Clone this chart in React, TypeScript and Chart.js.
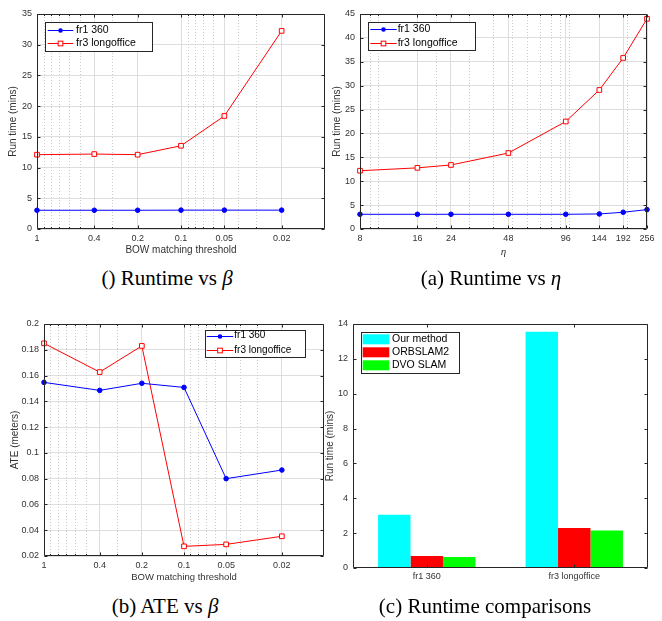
import React, { useEffect, useRef } from "react";
import { Chart, registerables } from "chart.js";

Chart.register(...registerables);

// ---------- data ----------
const betaValues = [1, 0.4, 0.2, 0.1, 0.05, 0.02];
const betaTickValues = [1, 0.4, 0.2, 0.1, 0.05, 0.02];
const betaMinorValues = [0.9, 0.8, 0.7, 0.6, 0.5, 0.3, 0.09, 0.08, 0.07, 0.06, 0.04, 0.03];
const runtimeBetaFr1 = [3.05, 3.05, 3.05, 3.07, 3.07, 3.07];
const runtimeBetaFr3 = [12.1, 12.2, 12.1, 13.55, 18.4, 32.25];
const runtimeBetaYTicks = [0, 5, 10, 15, 20, 25, 30, 35];

const etaValues = [8, 16, 24, 48, 96, 144, 192, 256];
const etaTickValues = [8, 16, 24, 48, 96, 144, 192, 256];
const etaMinorValues = [9, 10, 20, 30, 40, 50, 60, 70, 80, 90, 100, 200];
const runtimeEtaFr1 = [3.08, 3.08, 3.08, 3.08, 3.08, 3.15, 3.5, 4.06];
const runtimeEtaFr3 = [12.2, 12.8, 13.4, 15.9, 22.5, 29.1, 35.8, 44.0];
const runtimeEtaYTicks = [0, 5, 10, 15, 20, 25, 30, 35, 40, 45];

const ateBetaFr1 = [0.1547, 0.1485, 0.154, 0.1508, 0.08, 0.0867];
const ateBetaFr3 = [0.185, 0.1627, 0.183, 0.0275, 0.029, 0.0353];
const ateYTicks = [0.02, 0.04, 0.06, 0.08, 0.1, 0.12, 0.14, 0.16, 0.18, 0.2];

const sequences = ["fr1 360", "fr3 longoffice"];
const methods = ["Our method", "ORBSLAM2", "DVO SLAM"];
const ourMethodRuntime = [3.06, 13.56];
const orbslam2Runtime = [0.69, 2.3];
const dvoSlamRuntime = [0.63, 2.15];
const comparisonYTicks = [0, 2, 4, 6, 8, 10, 12, 14];

const seriesNames = ["fr1 360", "fr3 longoffice"];

// ---------- styles ----------
const FONT = "'Liberation Sans', Arial, Helvetica, sans-serif";
const AXIS = "#262626";
const TICK_TEXT = "#333333";
const GRID = "#dedede";
const MINOR_GRID = "#cccccc";

function drawLegend(chart: any, L: any) {
  const ctx = chart.ctx;
  const ds = chart.data.datasets;
  ctx.save();
  ctx.fillStyle = "#ffffff";
  ctx.fillRect(L.x, L.y, L.w, L.h);
  ctx.strokeStyle = AXIS;
  ctx.lineWidth = 1;
  ctx.strokeRect(Math.round(L.x) + 0.5, Math.round(L.y) + 0.5, Math.round(L.w), Math.round(L.h));
  ctx.font = `${L.fontSize}px ${FONT}`;
  ctx.textBaseline = "middle";
  ctx.textAlign = "left";
  ds.forEach((d: any, i: number) => {
    const cy = L.y + L.row0 + i * L.rowH;
    const x0 = L.x + L.sx0;
    const x1 = L.x + L.sx1;
    if (L.kind === "patch") {
      ctx.fillStyle = d.backgroundColor;
      ctx.fillRect(x0, cy - L.patchH / 2, x1 - x0, L.patchH);
    } else {
      ctx.strokeStyle = d.borderColor;
      ctx.lineWidth = 1;
      const ly = Math.round(cy) + 0.5;
      ctx.beginPath();
      ctx.moveTo(x0, ly);
      ctx.lineTo(x1, ly);
      ctx.stroke();
      const mx = (x0 + x1) / 2;
      if (d.pointStyle === "rect") {
        const s = d.pointRadius * Math.SQRT1_2;
        ctx.fillStyle = d.pointBackgroundColor;
        ctx.fillRect(mx - s, ly - s, 2 * s, 2 * s);
        ctx.strokeRect(mx - s, ly - s, 2 * s, 2 * s);
      } else {
        ctx.fillStyle = d.pointBackgroundColor;
        ctx.beginPath();
        ctx.arc(mx, ly, d.pointRadius, 0, Math.PI * 2);
        ctx.fill();
      }
    }
    ctx.fillStyle = "#000000";
    ctx.fillText(d.label, L.x + L.tx, cy);
  });
  ctx.restore();
}

const matlabPlugin = {
  id: "matlab",
  beforeDatasetsDraw(chart: any, _args: any, opts: any) {
    const { ctx, chartArea: a } = chart;
    const xs = chart.scales.x;
    const minor: number[] = opts.xMinor || [];
    if (!minor.length) return;
    ctx.save();
    ctx.strokeStyle = MINOR_GRID;
    ctx.lineWidth = 1;
    ctx.setLineDash([1, 2]);
    minor.forEach((v) => {
      const px = Math.round(xs.getPixelForValue(v)) + 0.5;
      ctx.beginPath();
      ctx.moveTo(px, a.top);
      ctx.lineTo(px, a.bottom);
      ctx.stroke();
    });
    ctx.restore();
  },
  afterDatasetsDraw(chart: any, _args: any, opts: any) {
    const { ctx, chartArea: a } = chart;
    const xs = chart.scales.x;
    const ys = chart.scales.y;
    const L = Math.round(a.left) + 0.5;
    const R = Math.round(a.right) - 0.5;
    const T = Math.round(a.top) + 0.5;
    const B = Math.round(a.bottom) - 0.5;
    ctx.save();
    ctx.strokeStyle = AXIS;
    ctx.lineWidth = 1;
    ctx.beginPath();
    ctx.rect(L, T, R - L, B - T);
    const major = 3;
    const minorLen = 1.5;
    xs.ticks.forEach((_t: any, i: number) => {
      const px = Math.round(xs.getPixelForTick(i)) + 0.5;
      ctx.moveTo(px, B);
      ctx.lineTo(px, B - major);
      ctx.moveTo(px, T);
      ctx.lineTo(px, T + major);
    });
    (opts.xMinor || []).forEach((v: number) => {
      const px = Math.round(xs.getPixelForValue(v)) + 0.5;
      ctx.moveTo(px, B);
      ctx.lineTo(px, B - minorLen);
      ctx.moveTo(px, T);
      ctx.lineTo(px, T + minorLen);
    });
    ys.ticks.forEach((_t: any, i: number) => {
      const py = Math.round(ys.getPixelForTick(i)) + 0.5;
      ctx.moveTo(L, py);
      ctx.lineTo(L + major, py);
      ctx.moveTo(R, py);
      ctx.lineTo(R - major, py);
    });
    ctx.stroke();
    ctx.restore();
    if (opts.legend) drawLegend(chart, opts.legend);
  },
};

const fmtNum = (v: number) => String(parseFloat(Number(v).toFixed(3)));

function lineDataset(label: string, xs: number[], ys: number[], kind: "blue" | "red") {
  const blue = kind === "blue";
  return {
    label,
    data: xs.map((x, i) => ({ x, y: ys[i] })),
    borderColor: blue ? "#0000ff" : "#ff0000",
    backgroundColor: blue ? "#0000ff" : "#ff0000",
    borderWidth: 1,
    pointStyle: blue ? "circle" : "rect",
    pointRadius: blue ? 2.3 : 3.3,
    pointBackgroundColor: blue ? "#0000ff" : "#ffffff",
    pointBorderColor: blue ? "#0000ff" : "#ff0000",
    pointBorderWidth: 1,
    tension: 0,
    clip: false,
  };
}

function lineConfig(p: any) {
  const { W, H, plot } = p;
  return {
    type: "line",
    data: {
      datasets: [
        lineDataset(seriesNames[0], p.xValues, p.s1, "blue"),
        lineDataset(seriesNames[1], p.xValues, p.s2, "red"),
      ],
    },
    options: {
      responsive: false,
      animation: false,
      devicePixelRatio: 1,
      events: [],
      layout: { padding: { left: 0, top: plot.t, right: W - plot.r, bottom: 0 } },
      plugins: {
        legend: { display: false },
        tooltip: { enabled: false },
        matlab: { xMinor: p.xMinor, legend: p.legend },
      },
      scales: {
        x: {
          type: "logarithmic",
          min: p.xMin,
          max: p.xMax,
          reverse: p.reverse,
          afterBuildTicks: (s: any) => {
            s.ticks = p.xTicks.map((v: number) => ({ value: v }));
          },
          afterFit: (s: any) => {
            s.height = H - plot.b;
          },
          grid: { color: GRID, lineWidth: 1, drawTicks: false },
          border: { display: false },
          ticks: {
            autoSkip: false,
            maxRotation: 0,
            padding: 4.6,
            color: TICK_TEXT,
            font: { family: FONT, size: 9 },
            callback: (v: any) => fmtNum(v),
          },
          title: {
            display: true,
            text: p.xTitle,
            color: TICK_TEXT,
            font: p.xTitleFont,
            padding: { top: 0, bottom: p.xTitlePad },
          },
        },
        y: {
          type: "linear",
          min: p.yMin,
          max: p.yMax,
          afterBuildTicks: (s: any) => {
            s.ticks = p.yTicks.map((v: number) => ({ value: v }));
          },
          afterFit: (s: any) => {
            s.width = plot.l;
          },
          grid: { color: GRID, lineWidth: 1, drawTicks: false },
          border: { display: false },
          ticks: {
            padding: 5,
            color: TICK_TEXT,
            font: { family: FONT, size: 9 },
            callback: (v: any) => fmtNum(v),
          },
          title: {
            display: true,
            text: p.yTitle,
            color: TICK_TEXT,
            font: { family: FONT, size: 10 },
            padding: { top: p.yTitlePad, bottom: 0 },
          },
        },
      },
    },
    plugins: [matlabPlugin],
  };
}

function makeP1(W: number, H: number) {
  return lineConfig({
    W, H,
    plot: { l: 37, t: 14, r: 325, b: 229 },
    xValues: betaValues, s1: runtimeBetaFr1, s2: runtimeBetaFr3,
    xMin: 0.01, xMax: 1, reverse: true, xTicks: betaTickValues, xMinor: betaMinorValues,
    yMin: 0, yMax: 35, yTicks: runtimeBetaYTicks,
    xTitle: "BOW matching threshold", xTitleFont: { family: FONT, size: 10 }, xTitlePad: 6,
    yTitle: "Run time (mins)", yTitlePad: 7.3,
    legend: { x: 45, y: 22, w: 107, h: 29, sx0: 2.7, sx1: 28.3, tx: 31, row0: 8, rowH: 13.3, fontSize: 10.5 },
  });
}

function makeP2(W: number, H: number) {
  return lineConfig({
    W, H,
    plot: { l: 29, t: 14, r: 316, b: 229 },
    xValues: etaValues, s1: runtimeEtaFr1, s2: runtimeEtaFr3,
    xMin: 8, xMax: 256, reverse: false, xTicks: etaTickValues, xMinor: etaMinorValues,
    yMin: 0, yMax: 45, yTicks: runtimeEtaYTicks,
    xTitle: "η", xTitleFont: { family: "'Liberation Serif', 'DejaVu Serif', serif", size: 11, style: "italic" }, xTitlePad: 3.4,
    yTitle: "Run time (mins)", yTitlePad: 0,
    legend: { x: 36.7, y: 22.3, w: 106.6, h: 28.4, sx0: 2.6, sx1: 29, tx: 30, row0: 7, rowH: 13.4, fontSize: 10.5 },
  });
}

function makeP3(W: number, H: number) {
  return lineConfig({
    W, H,
    plot: { l: 44, t: 29, r: 324, b: 261 },
    xValues: betaValues, s1: ateBetaFr1, s2: ateBetaFr3,
    xMin: 0.01, xMax: 1, reverse: true, xTicks: betaTickValues, xMinor: betaMinorValues,
    yMin: 0.02, yMax: 0.2, yTicks: ateYTicks,
    xTitle: "BOW matching threshold", xTitleFont: { family: FONT, size: 9.5 }, xTitlePad: 4,
    yTitle: "ATE (meters)", yTitlePad: 9,
    legend: { x: 205, y: 35, w: 100, h: 26.7, sx0: 1.7, sx1: 28.3, tx: 29.3, row0: 5.5, rowH: 14.3, fontSize: 10 },
  });
}

function makeP4(W: number, H: number) {
  const plot = { l: 35, t: 29, r: 330, b: 273 };
  return {
    type: "bar",
    data: {
      labels: sequences,
      datasets: [
        { label: methods[0], data: ourMethodRuntime, backgroundColor: "#00ffff" },
        { label: methods[1], data: orbslam2Runtime, backgroundColor: "#ff0000" },
        { label: methods[2], data: dvoSlamRuntime, backgroundColor: "#00ff00" },
      ].map((d) => ({ ...d, borderWidth: 0, categoryPercentage: 0.66, barPercentage: 1 })),
    },
    options: {
      responsive: false,
      animation: false,
      devicePixelRatio: 1,
      events: [],
      layout: { padding: { left: 0, top: plot.t, right: W - plot.r, bottom: 0 } },
      plugins: {
        legend: { display: false },
        tooltip: { enabled: false },
        matlab: {
          legend: { kind: "patch", x: 43, y: 36.7, w: 98.3, h: 41, sx0: 1.7, sx1: 28.3, tx: 31, row0: 7.6, rowH: 13, patchH: 10, fontSize: 10.5 },
        },
      },
      scales: {
        x: {
          type: "category",
          afterFit: (s: any) => {
            s.height = H - plot.b;
          },
          grid: { display: false, drawTicks: false },
          border: { display: false },
          ticks: {
            autoSkip: false,
            maxRotation: 0,
            padding: 3.6,
            color: TICK_TEXT,
            font: { family: FONT, size: 9 },
          },
        },
        y: {
          type: "linear",
          min: 0,
          max: 14,
          afterBuildTicks: (s: any) => {
            s.ticks = comparisonYTicks.map((v: number) => ({ value: v }));
          },
          afterFit: (s: any) => {
            s.width = plot.l;
          },
          grid: { display: false, drawTicks: false },
          border: { display: false },
          ticks: {
            padding: 5,
            color: TICK_TEXT,
            font: { family: FONT, size: 9 },
            callback: (v: any) => fmtNum(v),
          },
          title: {
            display: true,
            text: "Run time (mins)",
            color: TICK_TEXT,
            font: { family: FONT, size: 10 },
            padding: { top: 6, bottom: 0 },
          },
        },
      },
    },
    plugins: [matlabPlugin],
  };
}

function ChartCanvas(props: { left: number; top: number; width: number; height: number; make: (w: number, h: number) => any }) {
  const ref = useRef<HTMLCanvasElement | null>(null);
  useEffect(() => {
    if (!ref.current) return;
    const chart = new Chart(ref.current, props.make(props.width, props.height));
    return () => chart.destroy();
  }, []);
  return (
    <canvas
      ref={ref}
      width={props.width}
      height={props.height}
      style={{ position: "absolute", left: props.left, top: props.top, width: props.width, height: props.height }}
    />
  );
}

function Caption(props: { cx: number; cy: number; children: React.ReactNode }) {
  return (
    <div
      style={{
        position: "absolute",
        left: props.cx,
        top: props.cy - 10.5,
        transform: "translateX(-50%)",
        whiteSpace: "nowrap",
        fontFamily: "'Liberation Serif', 'Times New Roman', serif",
        fontSize: 21,
        lineHeight: "21px",
        color: "#000",
      }}
    >
      {props.children}
    </div>
  );
}

export default function App() {
  return (
    <div style={{ position: "absolute", left: 0, top: 0, width: 662, height: 621, background: "#ffffff", overflow: "hidden" }}>
      <ChartCanvas left={0} top={0} width={331} height={262} make={makeP1} />
      <ChartCanvas left={331} top={0} width={331} height={262} make={makeP2} />
      <ChartCanvas left={0} top={295} width={331} height={292} make={makeP3} />
      <ChartCanvas left={318} top={295} width={344} height={292} make={makeP4} />
      <Caption cx={167} cy={278}>() Runtime vs <i>β</i></Caption>
      <Caption cx={491} cy={278}>(a) Runtime vs <i>η</i></Caption>
      <Caption cx={165} cy={606}>(b) ATE vs <i>β</i></Caption>
      <Caption cx={485} cy={606}>(c) Runtime comparisons</Caption>
    </div>
  );
}
